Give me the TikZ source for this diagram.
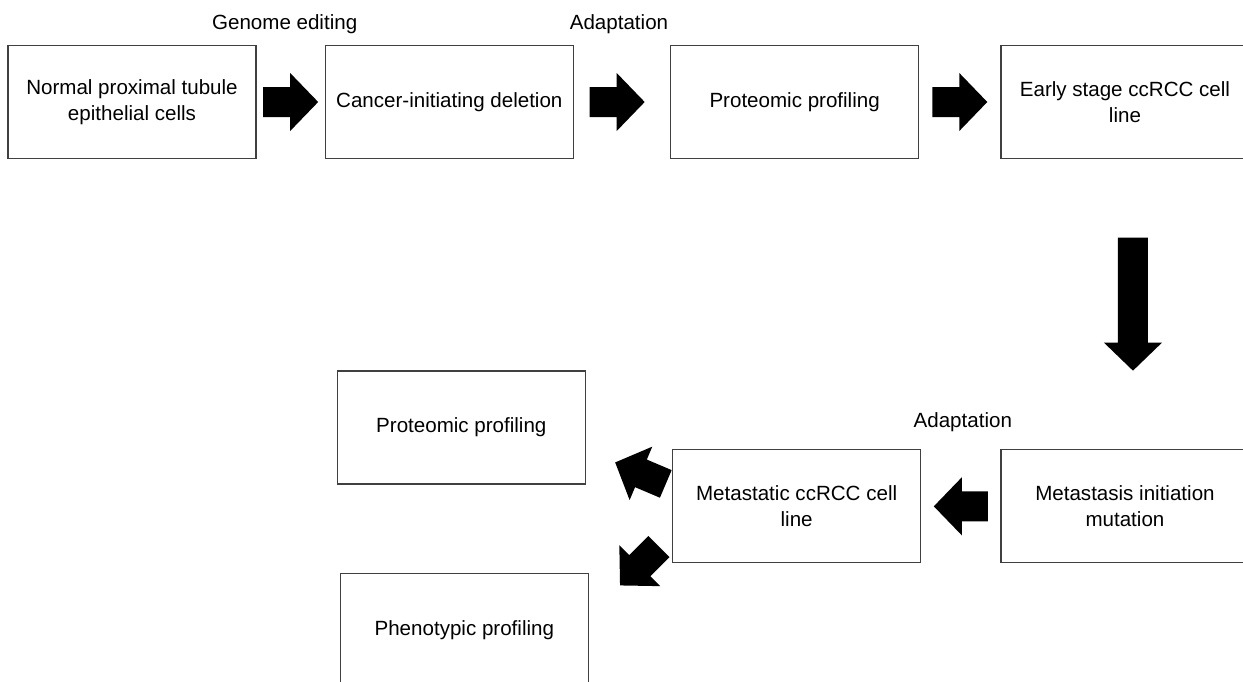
\documentclass[tikz,border=0pt]{standalone}
\usepackage{fontspec}
\setmainfont{Liberation Sans}
\usetikzlibrary{calc}
\usetikzlibrary{positioning}

\begin{document}
\begin{tikzpicture}[box/.style={draw=black!75, line width=0.75pt, minimum width=4.96cm, minimum height=2.26cm, inner sep=2pt, align=center, font=\fontsize{11.7}{14.8}\selectfont},
        lbl/.style={inner sep=0pt, font=\fontsize{11.7}{14.8}\selectfont},
        pics/blockarrow/.style={code={
            \fill (-#1/2,-0.3) -- (#1/2-0.56,-0.3) -- (#1/2-0.56,-0.58) -- (#1/2,0) -- (#1/2-0.56,0.58) -- (#1/2-0.56,0.3) -- (-#1/2,0.3) -- cycle;
        }},
        pics/blockarrow/.default=1.1]
        \useasboundingbox (0,0) rectangle (24.86,-13.62);

        \node[box] (normal) at (2.64,-2.04) {Normal proximal tubule\\epithelial cells};
        \node[box, right=1.36cm of normal] (deletion) {Cancer-initiating deletion};
        \node[box, right=1.92cm of deletion] (proteomic) {Proteomic profiling};
        \node[box, right=1.62cm of proteomic] (early) {Early stage ccRCC cell\\line};

        \node[box, below=5.8cm of early] (mutation) {Metastasis initiation\\mutation};
        \node[box, left=1.58cm of mutation] (metastatic) {Metastatic ccRCC cell\\line};

        \node[box, anchor=south east] (proteomic2) at ($(metastatic.north west)+(-1.72,-0.71)$) {Proteomic profiling};
        \node[box, anchor=north east] (phenotypic) at ($(metastatic.south west)+(-1.66,-0.19)$) {Phenotypic profiling};

        \node[lbl] (editing) at ($(normal.north east)!0.5!(deletion.north west)+(-0.12,0.41)$) {Genome editing};
        \node[lbl] (adapt top) at ($(deletion.north east)!0.5!(proteomic.north west)+(-0.06,0.41)$) {Adaptation};
        \node[lbl] (adapt bottom) at ($(metastatic.north east)!0.5!(mutation.north west)+(0.04,0.54)$) {Adaptation};

        \pic at ($(normal.east)!0.5!(deletion.west)$) {blockarrow};
        \pic at ($(deletion.east)!0.45!(proteomic.west)$) {blockarrow};
        \pic at ($(proteomic.east)!0.5!(early.west)$) {blockarrow};
        \pic[rotate=-90] at ($(early.south)!0.5!(mutation.north)+(0.16,0)$) {blockarrow=2.66};
        \pic[rotate=180] at ($(metastatic.east)!0.5!(mutation.west)$) {blockarrow=1.08};
        \pic[rotate=157] at ($(metastatic.north west)+(-0.63,-0.48)$) {blockarrow};
        \pic[rotate=225] at ($(metastatic.south west)+(-0.65,-0.05)$) {blockarrow};
    \end{tikzpicture}
\end{document}
